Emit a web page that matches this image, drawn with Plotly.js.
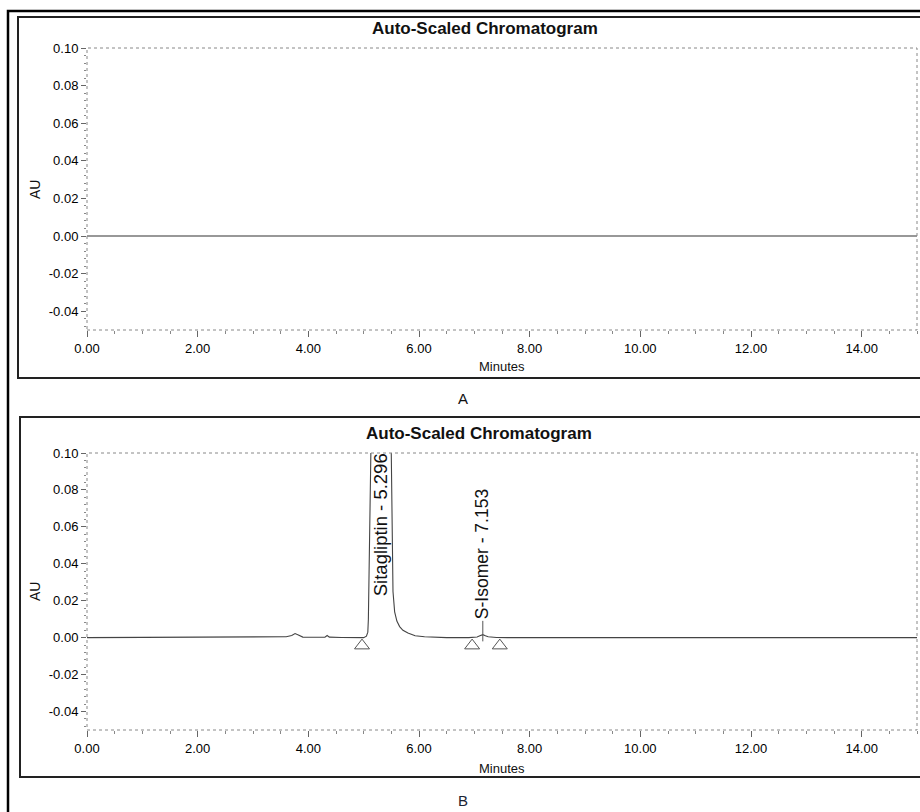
<!DOCTYPE html>
<html>
<head>
<meta charset="utf-8">
<script src="https://cdn.plot.ly/plotly-3.0.1.min.js"></script>
<style>html,body{margin:0;padding:0;background:#fff;}#chart{width:920px;height:812px;}</style>
</head>
<body>
<div id="chart"></div>
<script>
// ---- data ----
const chartTitle = "Auto-Scaled Chromatogram";
const xAxisTitle = "Minutes";
const yAxisTitle = "AU";
const panelLabels = ["A", "B"];

const xTickVals = [0, 2, 4, 6, 8, 10, 12, 14];
const xTickText = ["0.00", "2.00", "4.00", "6.00", "8.00", "10.00", "12.00", "14.00"];
const yTickVals = [-0.04, -0.02, 0.00, 0.02, 0.04, 0.06, 0.08, 0.10];
const yTickText = ["-0.04", "-0.02", "0.00", "0.02", "0.04", "0.06", "0.08", "0.10"];

// Panel A (blank): flat baseline
const timeA   = [0, 2, 4, 6, 8, 10, 12, 14, 15];
const signalA = [0, 0, 0, 0, 0, 0, 0, 0, 0];

// Panel B (sample): Sitagliptin main peak + S-Isomer trace peak
const timeB = [0, 3.4, 3.6, 3.7, 3.76, 3.82, 3.9, 4.1, 4.3, 4.34, 4.38, 4.6, 4.9,
  5.00, 5.05, 5.075, 5.085, 5.095, 5.11, 5.13, 5.20, 5.25, 5.296, 5.35, 5.42, 5.47,
  5.50, 5.515, 5.53, 5.56, 5.60, 5.65, 5.71, 5.80, 5.93, 6.1, 6.3, 6.5,
  6.9, 7.05, 7.10, 7.153, 7.20, 7.25, 7.4, 7.6, 15];
const signalB = [0, 0.0002, 0.0005, 0.0012, 0.0022, 0.0015, 0.0003, 0.0002, 0.0003, 0.0012, 0.0003, 0.0001, 0,
  0, 0.0008, 0.003, 0.010, 0.030, 0.060, 0.100, 0.50, 0.85, 1.00, 0.80, 0.40, 0.17,
  0.10, 0.06, 0.025, 0.014, 0.009, 0.006, 0.004, 0.0025, 0.0010, 0.0005, 0.0001, 0,
  0, 0.0004, 0.0010, 0.0016, 0.0010, 0.0005, 0.0001, 0, 0];

// integration baseline markers
const markX = [4.97, 6.96, 7.46];
const markY = [-0.0043, -0.0043, -0.0043];

// peak labels
const peakNames = ["Sitagliptin", "S-Isomer"];
const peakTimes = [5.296, 7.153];

// ---- layout helpers ----
const W = 920, H = 812;
const px = v => v / W;
const py = v => 1 - v / H;
const FONT = "Liberation Sans, Arial, sans-serif";

function xAxis(anchor) {
  return {
    anchor: anchor, domain: [px(87), px(917)], range: [0, 15],
    tickmode: "array", tickvals: xTickVals, ticktext: xTickText,
    ticks: "outside", ticklen: 6, tickwidth: 1, tickcolor: "#666",
    minor: {tickmode: "linear", tick0: 0, dtick: 0.5, ticks: "outside", ticklen: 3, tickcolor: "#888", showgrid: false},
    showgrid: false, zeroline: false, showline: false,
    tickfont: {family: FONT, size: 13, color: "#000"}, fixedrange: true
  };
}
function yAxis(anchor, dom) {
  return {
    anchor: anchor, domain: dom, range: [-0.05, 0.10],
    tickmode: "array", tickvals: yTickVals, ticktext: yTickText,
    ticks: "outside", ticklen: 5, tickwidth: 1, tickcolor: "#666",
    minor: {tickmode: "linear", tick0: 0, dtick: 0.004, ticks: "outside", ticklen: 2, tickcolor: "#888", showgrid: false},
    showgrid: false, zeroline: false, showline: false,
    tickfont: {family: FONT, size: 13, color: "#000"}, fixedrange: true
  };
}

const traces = [
  {x: timeA, y: signalA, xaxis: "x", yaxis: "y", mode: "lines",
   line: {color: "#333", width: 1.2}, hoverinfo: "skip"},
  {x: timeB, y: signalB, xaxis: "x2", yaxis: "y2", mode: "lines",
   line: {color: "#444", width: 1.1}, hoverinfo: "skip"},
  {x: markX, y: markY, xaxis: "x2", yaxis: "y2", mode: "markers",
   marker: {symbol: "triangle-up-open", size: 13, color: "#555", line: {width: 1}}, hoverinfo: "skip"}
];

const frameLine = {color: "#888", width: 1, dash: "dot"};
const shapes = [
  // outer border
  {type: "rect", xref: "paper", yref: "paper", x0: px(8), y0: py(11), x1: 1.02, y1: -0.02,
   line: {color: "#000", width: 2.5}},
  // panel boxes
  {type: "rect", xref: "paper", yref: "paper", x0: px(18), y0: py(17), x1: 1.02, y1: py(378),
   line: {color: "#222", width: 2}},
  {type: "rect", xref: "paper", yref: "paper", x0: px(20), y0: py(417), x1: 1.02, y1: py(777),
   line: {color: "#222", width: 2}},
  // plot frames
  {type: "rect", xref: "x domain", yref: "y domain", x0: 0, y0: 0, x1: 1, y1: 1, line: frameLine},
  {type: "rect", xref: "x2 domain", yref: "y2 domain", x0: 0, y0: 0, x1: 1, y1: 1, line: frameLine}
];

function paperText(text, x, y, size, opts) {
  return Object.assign({text: text, xref: "paper", yref: "paper", x: px(x), y: py(y),
    xanchor: "center", yanchor: "middle", showarrow: false,
    font: {family: FONT, size: size, color: "#111"}}, opts || {});
}

const annotations = [
  paperText("<b>" + chartTitle + "</b>", 485, 29, 17),
  paperText("<b>" + chartTitle + "</b>", 479, 433, 17),
  paperText(xAxisTitle, 502, 366, 13),
  paperText(xAxisTitle, 502, 768, 13),
  paperText(yAxisTitle, 35, 190, 14, {textangle: -90}),
  paperText(yAxisTitle, 35, 592, 14, {textangle: -90}),
  paperText(panelLabels[0], 463, 398, 15),
  paperText(panelLabels[1], 463, 800, 15, {font: {family: FONT, size: 15, color: "#1a2433"}}),
  {text: peakNames[0] + " - " + peakTimes[0].toFixed(3), xref: "x2", yref: "y2",
   x: peakTimes[0], y: 0.0609, xanchor: "center", yanchor: "middle", textangle: -90, showarrow: false,
   font: {family: FONT, size: 18.5, color: "#111"}},
  {text: peakNames[1] + " - " + peakTimes[1].toFixed(3), xref: "x2", yref: "y2",
   x: peakTimes[1], y: -0.002, textangle: -90, showarrow: true, arrowhead: 0,
   arrowwidth: 1, arrowcolor: "#555", ax: 0, ay: -87, standoff: 0,
   font: {family: FONT, size: 17.5, color: "#111"}}
];

const layout = {
  width: W, height: H, margin: {l: 0, r: 0, t: 0, b: 0},
  paper_bgcolor: "#fff", plot_bgcolor: "#fff", showlegend: false,
  xaxis: xAxis("y"), yaxis: yAxis("x", [py(330), py(48)]),
  xaxis2: xAxis("y2"), yaxis2: yAxis("x2", [py(730), py(453)]),
  shapes: shapes, annotations: annotations
};

Plotly.newPlot("chart", traces, layout, {staticPlot: true, displayModeBar: false});
</script>
</body>
</html>
